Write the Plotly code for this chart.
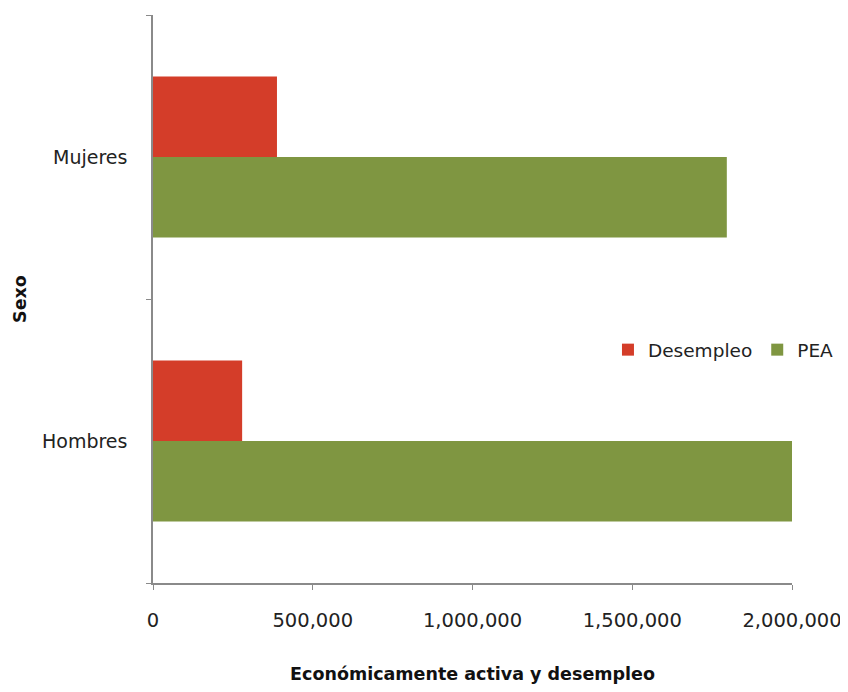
import plotly.graph_objects as go

categories = ["Hombres", "Mujeres"]
pea = [2000000, 1796000]
desempleo = [279000, 388000]

RED = "#D43D29"
GREEN = "#7F9641"
AXIS = "#8A8A8A"
FONT = "DejaVu Sans"

fig = go.Figure()
fig.add_trace(go.Bar(y=categories, x=pea, name="PEA", orientation="h",
                     marker=dict(color=GREEN, line=dict(width=0))))
fig.add_trace(go.Bar(y=categories, x=desempleo, name="Desempleo", orientation="h",
                     marker=dict(color=RED, line=dict(width=0))))

# page body has an 8px margin, so the figure is sized to fit inside the window
fig.update_layout(
    width=840, height=676,
    margin=dict(l=145, r=56, t=7, b=101, autoexpand=False),
    paper_bgcolor="white", plot_bgcolor="white",
    barmode="group", bargap=0.433, bargroupgap=0,
    font=dict(family=FONT, size=19, color="#222222"),
    showlegend=True,
    legend=dict(orientation="h", traceorder="reversed", x=0.712, y=0.41,
                xanchor="left", yanchor="middle", bgcolor="rgba(0,0,0,0)",
                font=dict(size=18.5), itemwidth=30),
    xaxis=dict(
        range=[0, 2000000], tickvals=[0, 500000, 1000000, 1500000, 2000000],
        tickformat=",d", showgrid=False, zeroline=False, automargin=False,
        showline=True, linecolor=AXIS, linewidth=1.5, tickfont=dict(size=19.5),
        ticks="outside", ticklen=5, tickcolor=AXIS, ticklabelstandoff=14,
        title=dict(text="<b>Económicamente activa y desempleo</b>",
                   font=dict(size=17.5, color="#111111"), standoff=37),
    ),
    yaxis=dict(
        type="category", categoryorder="array", categoryarray=categories,
        showgrid=False, zeroline=False, showline=True, linecolor=AXIS, linewidth=1.5,
        ticks="outside", ticklen=5, tickcolor=AXIS, tickson="boundaries",
        ticklabelstandoff=20, automargin=False,
        title=dict(text="<b>Sexo</b>", font=dict(size=17.5, color="#111111"), standoff=11),
    ),
)

fig.write_html("out.html")
